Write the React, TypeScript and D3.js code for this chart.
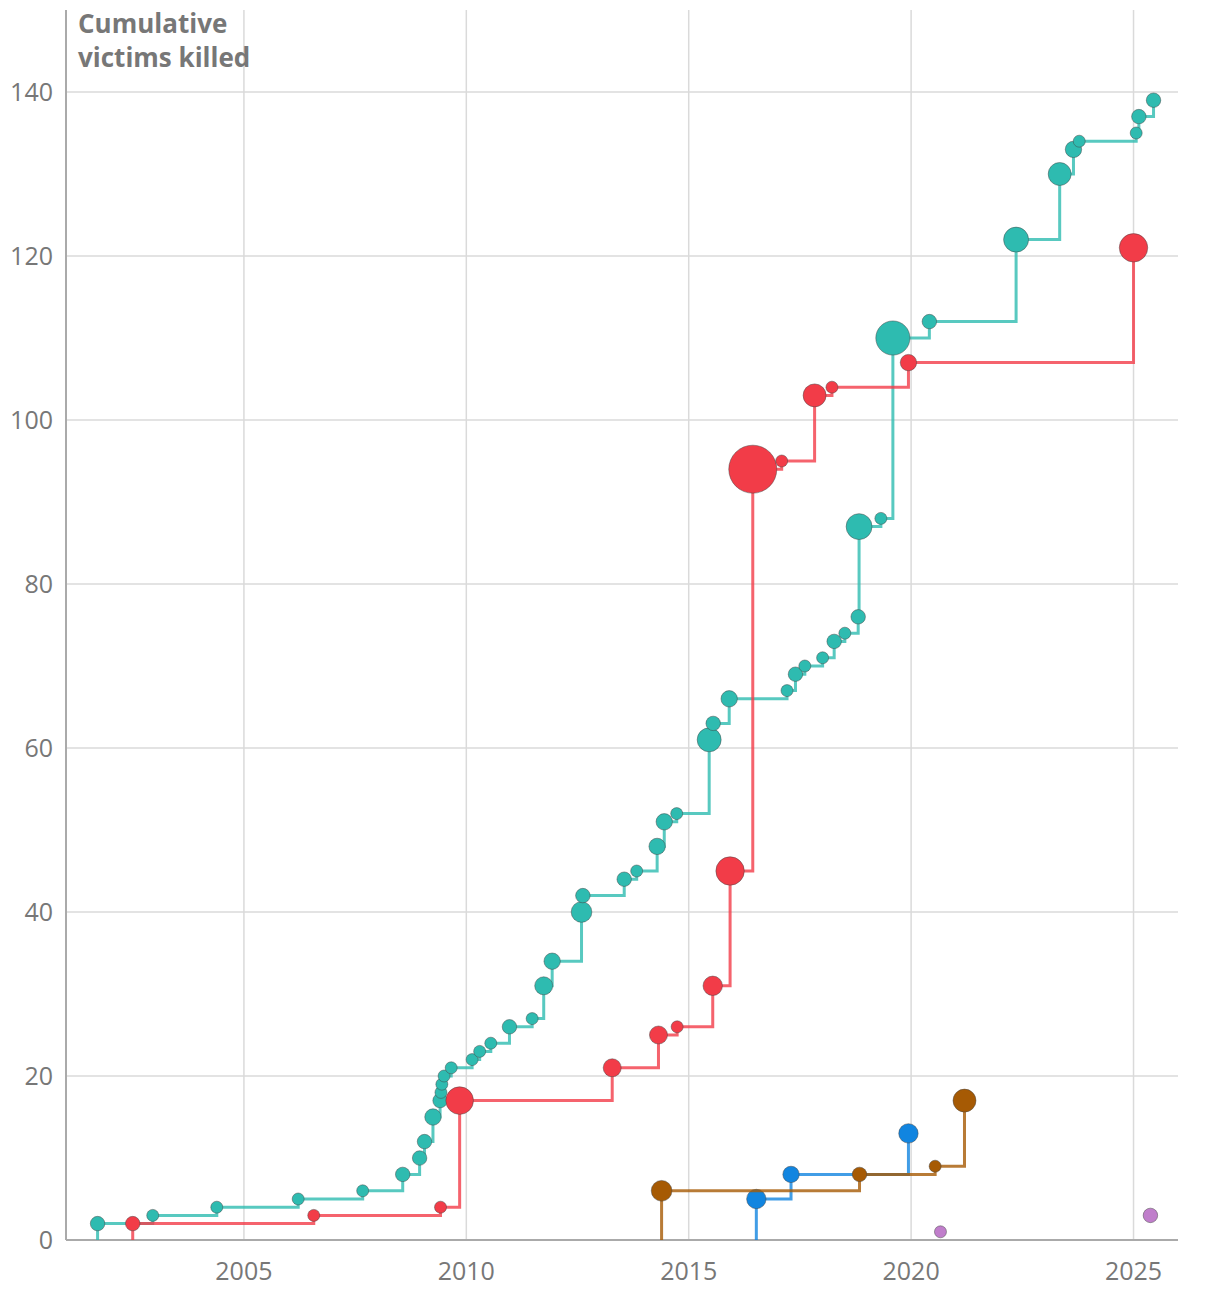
import { useEffect, useRef } from "react"
import * as d3 from "d3"

// event dates (decimal years) and cumulative victims, per group
const tealDates = [
  2001.71, 2002.95, 2004.39, 2006.22, 2007.67, 2008.57, 2008.95, 2009.06, 2009.25, 2009.41,
  2009.43, 2009.45, 2009.5, 2009.66, 2010.13, 2010.3, 2010.55, 2010.97, 2011.48, 2011.74,
  2011.93, 2012.59, 2012.62, 2013.55, 2013.83, 2014.29, 2014.45, 2014.73, 2015.46, 2015.55,
  2015.91, 2017.21, 2017.4, 2017.61, 2018.01, 2018.27, 2018.51, 2018.81, 2018.83, 2019.32,
  2019.59, 2020.41, 2022.36, 2023.34, 2023.65, 2023.78, 2025.06, 2025.12, 2025.45,
]
const tealTotals = [
  2, 3, 4, 5, 6, 8, 10, 12, 15, 17,
  18, 19, 20, 21, 22, 23, 24, 26, 27, 31,
  34, 40, 42, 44, 45, 48, 51, 52, 61, 63,
  66, 67, 69, 70, 71, 73, 74, 76, 87, 88,
  110, 112, 122, 130, 133, 134, 135, 137, 139,
]

const redDates = [
  2002.5, 2006.57, 2009.42, 2009.85, 2013.28, 2014.32, 2014.74, 2015.54, 2015.93, 2016.44,
  2017.09, 2017.83, 2018.22, 2019.94, 2025.0,
]
const redTotals = [2, 3, 4, 17, 21, 25, 26, 31, 45, 94, 95, 103, 104, 107, 121]

const blueDates = [2016.52, 2017.3, 2019.94]
const blueTotals = [5, 8, 13]

const brownDates = [2014.39, 2018.84, 2020.54, 2021.2]
const brownTotals = [6, 8, 9, 17]

const purpleDates = [2020.66, 2025.38]
const purpleTotals = [1, 3]

const xTicks = [2005, 2010, 2015, 2020, 2025]
const yTicks = [0, 20, 40, 60, 80, 100, 120, 140]

const series = [
  { dates: tealDates, totals: tealTotals, color: "#2ebbb0", line: true },
  { dates: redDates, totals: redTotals, color: "#f23c48", line: true },
  { dates: blueDates, totals: blueTotals, color: "#1185e0", line: true },
  { dates: brownDates, totals: brownTotals, color: "#a65a04", line: true },
  { dates: purpleDates, totals: purpleTotals, color: "#c07ecb", line: false },
]

const W = 1220
const H = 1294
const margin = { top: 10, right: 42, bottom: 54, left: 66 }
const font = "'Open Sans', sans-serif"

export default function App() {
  const svgRef = useRef<SVGSVGElement>(null)

  useEffect(() => {
    if (!svgRef.current) return
    const svg = d3.select(svgRef.current)
    svg.selectAll("*").remove()

    const x = d3.scaleLinear().domain([2001, 2026]).range([margin.left, W - margin.right])
    const y = d3.scaleLinear().domain([0, 150]).range([H - margin.bottom, margin.top])
    const r = d3.scaleSqrt().domain([0, 49]).range([3, 24])

    // grid
    svg
      .append("g")
      .selectAll("line")
      .data(xTicks)
      .join("line")
      .attr("x1", (d) => x(d))
      .attr("x2", (d) => x(d))
      .attr("y1", y(150))
      .attr("y2", y(0))
      .attr("stroke", "#dadada")
      .attr("stroke-width", 1.5)

    svg
      .append("g")
      .selectAll("line")
      .data(yTicks.filter((d) => d > 0))
      .join("line")
      .attr("x1", x(2001))
      .attr("x2", x(2026))
      .attr("y1", (d) => y(d))
      .attr("y2", (d) => y(d))
      .attr("stroke", "#dadada")
      .attr("stroke-width", 1.5)

    // axis lines
    svg
      .append("line")
      .attr("x1", x(2001))
      .attr("x2", x(2001))
      .attr("y1", y(150))
      .attr("y2", y(0))
      .attr("stroke", "#aaa")
      .attr("stroke-width", 2)
    svg
      .append("line")
      .attr("x1", x(2001))
      .attr("x2", x(2026))
      .attr("y1", y(0))
      .attr("y2", y(0))
      .attr("stroke", "#aaa")
      .attr("stroke-width", 2)

    // tick labels
    svg
      .append("g")
      .selectAll("text")
      .data(yTicks)
      .join("text")
      .attr("x", margin.left - 13)
      .attr("y", (d) => y(d))
      .attr("dy", "0.36em")
      .attr("text-anchor", "end")
      .attr("font-family", font)
      .attr("font-size", 25)
      .attr("fill", "#777")
      .text((d) => d)

    svg
      .append("g")
      .selectAll("text")
      .data(xTicks)
      .join("text")
      .attr("x", (d) => x(d))
      .attr("y", y(0) + 40)
      .attr("text-anchor", "middle")
      .attr("font-family", font)
      .attr("font-size", 25)
      .attr("fill", "#777")
      .text((d) => d)

    // title
    const title = svg
      .append("text")
      .attr("x", 78)
      .attr("y", 33)
      .attr("font-family", font)
      .attr("font-size", 26)
      .attr("font-weight", 700)
      .attr("fill", "#777")
    title.append("tspan").attr("x", 78).text("Cumulative")
    title.append("tspan").attr("x", 78).attr("dy", 34).text("victims killed")

    const line = d3
      .line<[number, number]>()
      .x((d) => x(d[0]))
      .y((d) => y(d[1]))
      .curve(d3.curveStepAfter)

    series.forEach((s) => {
      const pts: [number, number][] = s.dates.map((d, i) => [d, s.totals[i]])
      if (s.line) {
        svg
          .append("path")
          .attr("d", line([[s.dates[0], 0], ...pts]))
          .attr("fill", "none")
          .attr("stroke", s.color)
          .attr("stroke-opacity", 0.8)
          .attr("stroke-width", 3)
      }
      svg
        .append("g")
        .selectAll("circle")
        .data(pts)
        .join("circle")
        .attr("cx", (d) => x(d[0]))
        .attr("cy", (d) => y(d[1]))
        .attr("r", (d, i) => r(d[1] - (i > 0 ? pts[i - 1][1] : 0)))
        .attr("fill", s.color)
        .attr("stroke", "#444")
        .attr("stroke-opacity", 0.6)
        .attr("stroke-width", 0.8)
    })
  }, [])

  return (
    <svg
      ref={svgRef}
      width={W}
      height={H}
      style={{ position: "absolute", left: 0, top: 0, background: "#fff" }}
    ></svg>
  )
}
